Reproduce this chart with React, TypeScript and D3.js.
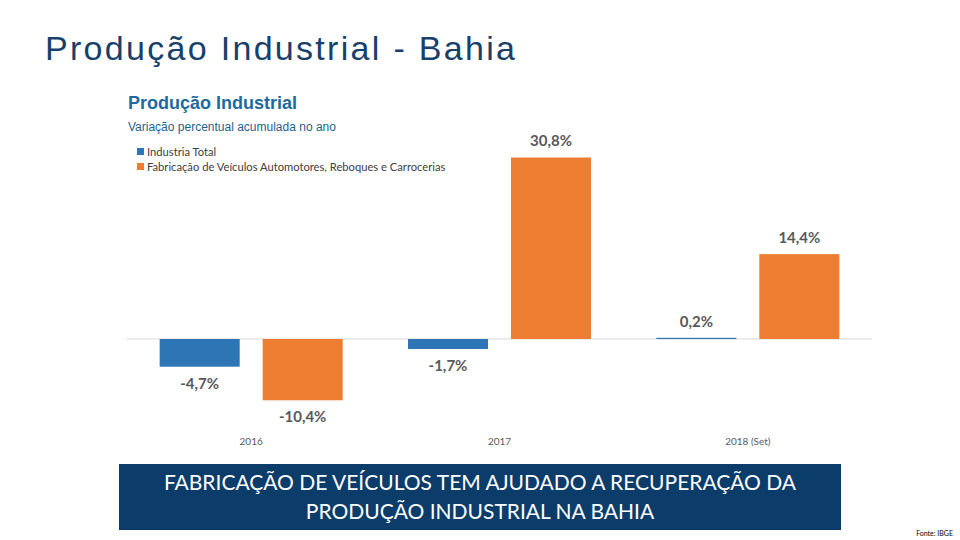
import React from "react";
import * as d3 from "d3";

const categories = ["2016", "2017", "2018 (Set)"];
const seriesNames = ["Industria Total", "Fabricação de Veículos Automotores, Reboques e Carrocerias"];
const industriaTotal = [-4.7, -1.7, 0.2];
const veiculos = [-10.4, 30.8, 14.4];
const colors = ["#2e75b6", "#ed7d31"];

const fmt = (v: number) => d3.format(".1f")(v).replace(".", ",").replace("\u2212", "-") + "%";

export default function App() {
  const W = 960, H = 540;
  const x = d3.scaleBand<string>().domain(categories).range([127, 872]).padding(0);
  const xs = d3.scaleBand<string>().domain(["a", "b"]).range([0, x.bandwidth()]).paddingInner(0.223).paddingOuter(0.317);
  const y = d3.scaleLinear().domain([-12, 32]).range([339 + 12 * 5.893, 339 - 32 * 5.893]);
  const series = [industriaTotal, veiculos];
  const labelFont = "Lato, 'Open Sans', sans-serif";

  return (
    <svg width={W} height={H} style={{ position: "absolute", left: 0, top: 0, background: "#fff" }}>
      <text x={45} y={60} fontFamily="'Liberation Sans', Arial, sans-serif" fontSize={34} fill="#17406a" letterSpacing={2.3}>
        Produção Industrial - Bahia
      </text>
      <text x={128} y={109} fontFamily="'Liberation Sans', Arial, sans-serif" fontSize={18} fontWeight="bold" fill="#1f6a9c">
        Produção Industrial
      </text>
      <text x={128} y={131} fontFamily="'Liberation Sans', Arial, sans-serif" fontSize={12} fill="#1f5f8b">
        Variação percentual acumulada no ano
      </text>
      {seriesNames.map((n, i) => (
        <g key={n}>
          <rect x={137} y={148 + i * 15} width={7} height={7} fill={colors[i]} />
          <text x={147} y={156 + i * 15} fontFamily={labelFont} fontSize={11.2} fill="#404040">{n}</text>
        </g>
      ))}
      <line x1={127} x2={872} y1={y(0)} y2={y(0)} stroke="#d9d9d9" strokeWidth={1} />
      {categories.map((c, ci) => (
        <g key={c}>
          {series.map((s, si) => {
            const v = s[ci];
            const bx = (x(c) as number) + (xs(si === 0 ? "a" : "b") as number);
            const y0 = y(0), y1 = y(v);
            const top = Math.min(y0, y1);
            const h = Math.max(Math.abs(y1 - y0), 1);
            const ly = v >= 0 ? top - 11 : top + h + 22;
            return (
              <g key={si}>
                <rect x={bx} y={top} width={xs.bandwidth()} height={h} fill={colors[si]} />
                <text x={bx + xs.bandwidth() / 2} y={ly} textAnchor="middle" fontFamily={labelFont} fontSize={15} fontWeight="bold" fill="#595959">
                  {fmt(v)}
                </text>
              </g>
            );
          })}
          <text x={(x(c) as number) + x.bandwidth() / 2} y={445} textAnchor="middle" fontFamily={labelFont} fontSize={10} fill="#595959">
            {c}
          </text>
        </g>
      ))}
      <rect x={119} y={464} width={722} height={66} fill="#0c3c6a" />
      <text x={480} y={490} textAnchor="middle" fontFamily={labelFont} fontSize={21} fill="#ffffff">
        FABRICAÇÃO DE VEÍCULOS TEM AJUDADO A RECUPERAÇÃO DA
      </text>
      <text x={480} y={519} textAnchor="middle" fontFamily={labelFont} fontSize={21} fill="#ffffff">
        PRODUÇÃO INDUSTRIAL NA BAHIA
      </text>
      <text x={953} y={536} textAnchor="end" fontFamily={labelFont} fontSize={7} fill="#000">Fonte: IBGE</text>
    </svg>
  );
}
